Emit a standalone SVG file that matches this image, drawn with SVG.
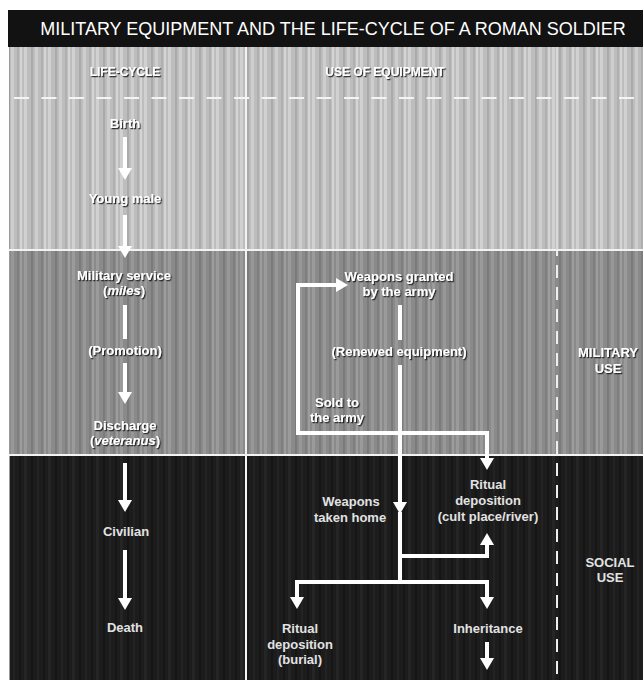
<svg xmlns="http://www.w3.org/2000/svg" width="643" height="680" viewBox="0 0 643 680">
<style>
.t{font-family:"Liberation Sans",Arial,sans-serif;font-weight:bold;font-size:13px;text-anchor:middle}
.emb{fill:#ffffff;filter:url(#sh)}
.dark{fill:#e2e2e2}
.hd{font-size:12px}
.title{font-family:"Liberation Sans",Arial,sans-serif;font-size:18px;fill:#ffffff;text-anchor:middle}
.ln{fill:none;stroke:#ffffff;stroke-width:4;stroke-linejoin:miter}
.arr{marker-end:url(#ah)}
.frame{stroke:#f2f2f2;stroke-width:2;fill:none}
</style>
<defs>
<filter id="sh" x="-10%" y="-30%" width="130%" height="180%">
<feDropShadow dx="1.2" dy="1.2" stdDeviation="0.5" flood-color="#151515" flood-opacity="0.9"/>
</filter>
<marker id="ah" viewBox="0 0 12 14" refX="0" refY="7" markerWidth="12" markerHeight="14" markerUnits="userSpaceOnUse" orient="auto">
<path d="M0,0 L12,7 L0,14 z" fill="#ffffff"/>
</marker>
<pattern id="p1" width="24" height="10" patternUnits="userSpaceOnUse">
<rect width="24" height="10" fill="#bdbdbd"/>
<rect x="0" width="3" height="10" fill="#d1d1d1"/>
<rect x="7" width="2" height="10" fill="#aaaaaa"/>
<rect x="11" width="3" height="10" fill="#cecece"/>
<rect x="17" width="2" height="10" fill="#b0b0b0"/>
<rect x="20" width="2" height="10" fill="#d5d5d5"/>
</pattern>
<pattern id="p2" width="24" height="10" patternUnits="userSpaceOnUse">
<rect width="24" height="10" fill="#8a8a8a"/>
<rect x="0" width="3" height="10" fill="#9b9b9b"/>
<rect x="7" width="2" height="10" fill="#7a7a7a"/>
<rect x="11" width="3" height="10" fill="#989898"/>
<rect x="17" width="2" height="10" fill="#7e7e7e"/>
<rect x="20" width="2" height="10" fill="#9d9d9d"/>
</pattern>
<pattern id="p3" width="24" height="10" patternUnits="userSpaceOnUse">
<rect width="24" height="10" fill="#1c1c1c"/>
<rect x="0" width="3" height="10" fill="#252525"/>
<rect x="7" width="2" height="10" fill="#151515"/>
<rect x="13" width="2" height="10" fill="#232323"/>
<rect x="19" width="2" height="10" fill="#161616"/>
</pattern>
</defs>

<g id="background">
<rect x="0" y="0" width="643" height="680" fill="#ffffff"/>
<rect x="8" y="10" width="635" height="37" fill="#121212"/>
<rect x="9" y="47" width="634" height="203" fill="url(#p1)"/>
<rect x="9" y="250" width="634" height="205" fill="url(#p2)"/>
<rect x="9" y="455" width="634" height="225" fill="url(#p3)"/>
<line x1="9.5" y1="47" x2="9.5" y2="680" stroke="#9a9a9a" stroke-width="1"/>
<line x1="9" y1="250" x2="643" y2="250" class="frame"/>
<line x1="9" y1="455" x2="643" y2="455" class="frame"/>
<line x1="246" y1="47" x2="246" y2="680" class="frame"/>
<line x1="557" y1="47" x2="557" y2="250" stroke="#e6e6e6" stroke-opacity="0.7" stroke-width="2"/>
<line x1="557" y1="250" x2="557" y2="680" stroke="#eeeeee" stroke-width="2" stroke-dasharray="13 9" stroke-dashoffset="-15"/>
<line x1="14" y1="98" x2="643" y2="98" stroke="#f4f4f4" stroke-width="2" stroke-dasharray="15 12.5"/>
</g>

<g id="title"><text class="title" x="333" y="35">MILITARY EQUIPMENT AND THE LIFE-CYCLE OF A ROMAN SOLDIER</text></g>

<g id="header-lifecycle"><text class="t emb hd" x="125" y="76">LIFE-CYCLE</text></g>
<g id="header-use"><text class="t emb hd" x="385" y="76">USE OF EQUIPMENT</text></g>

<g id="connectors">
<path class="ln arr" d="M125,137 V168"/>
<path class="ln arr" d="M125,215 V246"/>
<path class="ln" d="M125,305 V339"/>
<path class="ln arr" d="M125,363 V392"/>
<path class="ln arr" d="M125,463 V500"/>
<path class="ln arr" d="M125,550 V598"/>
<path class="ln" d="M400,305 V340" stroke-width="4.5"/>
<path class="ln arr" d="M400,365 V502"/>
<path class="ln" d="M400,512 V582"/>
<path class="ln arr" d="M400,433 H298 V285 H336"/>
<path class="ln arr" d="M400,433 H487 V458"/>
<path class="ln arr" d="M400,556 H487 V545"/>
<path class="ln arr" d="M400,582 H297 V597"/>
<path class="ln arr" d="M400,582 H487 V597"/>
<path class="ln arr" d="M487,642 V658"/>
</g>

<g id="birth"><text class="t emb" x="125" y="127.5">Birth</text></g>
<g id="young-male"><text class="t emb" x="125" y="202.5">Young male</text></g>
<g id="military-service"><text class="t emb" x="124" y="280">Military service</text><text class="t emb" x="124" y="294.5">(<tspan font-style="italic">miles</tspan>)</text></g>
<g id="promotion"><text class="t emb" x="125" y="354.5">(Promotion)</text></g>
<g id="discharge"><text class="t emb" x="125" y="429.5">Discharge</text><text class="t emb" x="125" y="444.5">(<tspan font-style="italic">veteranus</tspan>)</text></g>
<g id="civilian"><text class="t dark" x="126" y="535.5">Civilian</text></g>
<g id="death"><text class="t dark" x="125" y="631.5">Death</text></g>

<g id="weapons-granted"><text class="t emb" x="399" y="280.5">Weapons granted</text><text class="t emb" x="399" y="296">by the army</text></g>
<g id="renewed-equipment"><text class="t emb" x="399" y="356">(Renewed equipment)</text></g>
<g id="sold-to-army"><text class="t emb" x="337" y="406.5">Sold to</text><text class="t emb" x="337" y="421.5">the army</text></g>
<g id="weapons-taken-home"><text class="t dark" x="351" y="506">Weapons</text><text class="t dark" x="350" y="521.5">taken home</text></g>
<g id="ritual-cult"><text class="t dark" x="488" y="488.5">Ritual</text><text class="t dark" x="488" y="504.5">deposition</text><text class="t dark" x="488" y="520.5">(cult place/river)</text></g>
<g id="ritual-burial"><text class="t dark" x="300" y="632.5">Ritual</text><text class="t dark" x="300" y="648.5">deposition</text><text class="t dark" x="300" y="664">(burial)</text></g>
<g id="inheritance"><text class="t dark" x="488" y="632.5">Inheritance</text></g>

<g id="military-use"><text class="t emb" x="608" y="357">MILITARY</text><text class="t emb" x="608" y="372.5">USE</text></g>
<g id="social-use"><text class="t dark" x="610" y="566.5">SOCIAL</text><text class="t dark" x="610" y="582">USE</text></g>
</svg>
